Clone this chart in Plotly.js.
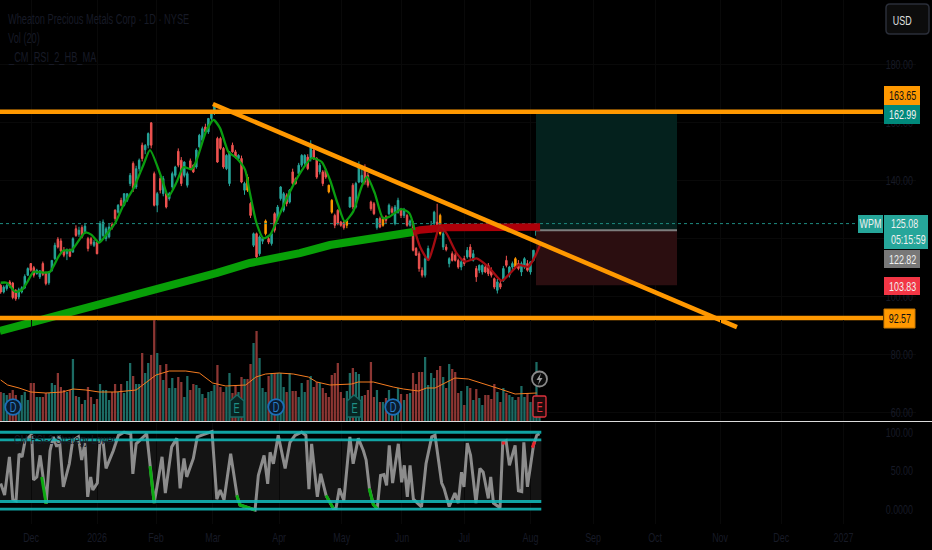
<!DOCTYPE html>
<html><head><meta charset="utf-8">
<script src="https://cdn.plot.ly/plotly-3.0.1.min.js"></script>
<style>html,body{margin:0;padding:0;background:#000}#c{width:932px;height:550px}</style>
</head><body><div id="c"></div>
<script>
// ---- data ----
const opens=[103.8,101.5,102.7,105,104.6,102.1,99.8,101.5,103,107.3,
111.3,109.9,107.8,106.7,111.3,108,104.7,109,113,119.7,
119.1,115.6,114.7,116.1,115.3,123.3,121.4,123.7,122.2,119.9,
119.9,117.6,118.7,119.3,121,119.9,120.5,124.7,129.7,129,
133.1,131.4,133.1,138.9,145.8,137.7,144,152.1,150.5,152.1,
159.8,142.3,131.4,140.6,135.4,135.4,133.7,137.7,141.7,150,
146.9,141.7,138.3,146.7,145.2,144.6,151.5,153.8,158.4,156.7,
161.3,163,154.4,154.4,151,144,138.9,152.1,149.8,147.5,
147.5,136.6,141.1,132,117.6,121.6,114.7,119,121.6,119.9,
118.2,128.5,126.8,133.7,129.7,134.8,132.5,142.9,140.6,142.3,
145.2,145.8,148,147.5,150.4,147.5,142.9,142.9,143.5,138.3,
133.1,127.9,129.7,125.6,125.6,124.5,130.8,138.3,130.8,139.4,
139.4,144,141.7,132.5,131.9,123.7,126.8,124.5,127.4,128.5,
130.2,125.1,129,129.7,127.9,127.9,124.5,125.1,116.5,114.7,
109,107.3,113,122.8,125.1,125.6,127.9,117,117,111.3,
114.7,114.2,112.4,110.1,113,113.6,117,112.4,109.6,109,
108.4,110.1,110.7,109,106.1,102.1,104.4,105.5,112.4,107.3,
110.1,110.1,111.3,108.4,110.1,111.3,108.4,112.4,121,121.6];
const highs=[104.4,103.8,104.4,105.6,105,102.5,103,103.5,107.6,110,
111.5,110.5,109.5,109,112,108.5,108.6,112.5,118.5,120.4,
120,117,116.5,116.5,120.4,124.5,124,124.5,125.2,120.5,
120.5,119.5,119.5,126,126.5,124,125,125.5,130,131.8,
134,135.5,135.5,142.5,146.5,145,147.5,153,152.5,156.5,
160,143,136,141.5,141.5,136,136,143,145,151,
148,146.5,143,147.5,145.5,151,156,158.5,159.5,161.5,
164,166,155,155,151.5,149,150,153,150.5,149,
148.5,139.5,142,132.5,122,122,121,120.5,126.5,120.5,
122,129,131.5,138,136,135.5,137,144,141,146,
149,149,149,153.8,152,148,146,143.5,144,138.5,
133.5,128.5,130,126,126,126.5,134,139,139.5,146.5,
144,145.5,142.5,133,132.5,127,127.5,127.5,128,132,
131,131.5,134,130.5,130.5,128.5,126.5,126,117,115.5,
110,113.5,117.5,126,129.5,131.9,128.5,123.5,118,113.5,
115.5,115,113,113,114,117,118,116,110.5,111,
111,111,111.5,110,106.5,106,105.5,110.5,114,110.5,
112,113.5,112.5,112,113.5,112.5,112,116,125.5,125.6];
const lows=[100.9,101,102,103,99,98.5,99,101,102.5,107,
108.5,106.5,107.5,106,107,103.8,104,108.5,112.5,116.5,
115,113.5,112.5,113.5,115,120.5,120.5,120,121.5,115.5,
117.5,117,114.5,118.5,120.5,119,120,123,126,128.5,
131,131,132.5,138,136,137,143,146.5,149,151,
151,131,129,135.5,134.5,130.3,133,137,141,144.5,
138,141,137.5,143.5,142.5,144,151,153,156,156,
160.5,162.5,146,150.5,144,143.5,138,149.5,147.5,147,
139,135,136,127,117,113,114,118,121,118,
117.5,122,126,133,129,131,132,138,138.5,141.5,
144.5,145,143.5,146.5,147,140.5,142,138,140.5,135.5,
128.5,123.5,124.5,124,123,123.5,130.5,130,130.3,139,
139,138.5,137.5,129.5,128,123,123.5,124,125,128,
128.5,124.5,128.5,127,127,124,124,115.5,114,108.5,
106.5,106.5,112.5,122,122.5,121.6,121,116,115.5,110,
112,112,109.5,109,110.5,113,113,112,105,108,
107.5,108,107,106.5,102.5,101,102.5,105,110,106.5,
109,109.5,109,107,109.5,108.5,107.5,112,120.5,121];
const closes=[101.5,103.2,103.8,103.8,99.6,99.2,102.3,103,106.9,109.6,
109,107.3,109,108.8,107.6,104.4,108.4,112.4,117.6,117,
115.6,114.2,116.1,113.8,119.9,121,122.8,120.5,124.2,116.5,
118.2,118.7,114.7,125.1,125.6,123.3,123.9,123.7,126.8,131.4,
131.4,135.4,135.4,141.7,137.1,144,146.9,147.5,152,156.1,
152.1,131.4,135.4,136.6,140.6,130.8,135.4,142.3,144.6,145.2,
138.9,146.3,142.3,144,142.9,150.4,155.5,157.8,156.7,161.3,
163.6,165.5,146.3,151,144.6,148.6,149.8,149.8,148,148.6,
139.4,138.9,136.6,127.9,121.6,113.6,120.5,120,126,118.7,
121.6,122.8,130.8,137.7,135.4,132,136.6,138.9,138.9,145.2,
148.6,148.6,144,151.5,147.5,141.1,145.2,138.9,141.1,136,
129,124.5,125.1,124.5,123.7,126.2,134.2,130.8,138.9,145.2,
141.7,139.4,138.3,130.2,128.5,126.8,123.9,126.8,126.2,131.4,
129,130.8,133.1,127.9,129.7,124.5,126,115.9,114.2,109.6,
107.3,113,116.5,124.5,129,124.5,121.6,121.6,116.1,113,
112.4,112.4,110.1,111.9,111.3,115.9,113.6,114.7,106.7,110.7,
110.7,108.4,107.8,107.3,103.2,105,103.2,109.6,110.7,110.1,
111.3,113,109.6,111.3,113,109,111.9,115.9,124.5,125.08];
const highlightBars=[82,88,109,110,115,127,146,171];
const volumes=[29,28,26,28,31,26,18,26,29,21,38,38,24,24,24,28,28,38,36,48,34,31,29,31,62,25,24,17,21,34,24,17,22,37,31,31,21,29,37,29,37,28,40,58,45,37,37,68,48,58,66,101,68,56,41,57,33,43,33,44,39,24,45,31,37,36,33,27,23,29,30,36,56,34,29,34,48,28,36,29,44,42,42,57,78,90,63,33,29,45,48,48,48,
48,34,29,48,30,30,24,38,29,41,45,34,39,38,33,28,24,46,48,58,29,23,30,48,53,49,47,25,26,31,59,24,31,19,19,23,31,18,21,33,27,21,27,28,48,37,49,49,64,36,48,43,51,55,44,33,57,52,49,28,30,16,35,33,21,32,23,16,26,26,22,37,29,19,33,28,26,24,21,24,35,24,28,19,24,59,24];
const volMaBars=[0,2.3,6.1,10,15,20.5,24,28.3,32.7,38.3,45,48.2,51.6,56,61.5,66,70.4,74.8,81.4,84.8,88,92.5,95.8,97.2,102.2,105,109.4,116.6,118.8,123.8,130.4,133.8,138.8,141.5,144.3,150.9,155.4,159.8,165.9,170.9,178.1];
const volMa=[41,36,33,29,28,29,32,31,29,29,31,38,46,50,50,48,38,35,36,44,47,48,47,47,44,39,36,37,39,39,34,32,30,33,33,43,42,38,32,27,28];
const maBars=[0,2,4.8,7,9.2,10.9,14.2,16.4,19.2,20.8,23.6,28,30.2,32.7,35.8,38,40.8,44.1,47.4,49.6,53.5,55.7,58.5,60.7,63.5,65.1,68.4,70.7,72.9,75.6,78.4,81.2,82.8,85,87.3,89.5,92.8,96.1,99.4,103.3,106.6,109.4,112.1,114.3,117.1,119.9,121.7,124.3,127,129.2,133.1,135.8,137.5];
const maUp=[104.7,104.7,101.6,102.2,105.6,108.5,108.2,108.5,113.7,115.8,116,122,121.2,118.5,122.3,125.2,131.5,137.2,145.3,150.4,140.7,134.4,139.5,144.5,143.8,147,157.3,160.8,157.9,149.9,147.6,143.6,135.5,125.2,120,121.2,128.6,136.1,142.4,147.6,146.4,140.1,131.5,125.8,129.2,137.8,141.3,135.5,126.9,127.5,130.1,128.6,122.9];
const maDownBars=[137.5,139.3,142.1,143.7,145.9,148.1,151.5,154.2,158.1,162,166.4,169.2,172,175.3,177.5,179.2];
const maDown=[122.9,117.1,112.5,117.1,124,121.7,114.8,112,113.1,110.2,105.4,107.9,110.8,110.2,113.7,117.7];
const longMaBars=[-0.3,19.7,26.3,49.6,71.9,82.8,92.8,99.4,109.4,120.4,137];
const longMaUp=[88.1,93.6,95.3,101.5,108.1,111.5,113.2,114.9,117.7,119.4,122.2];
const longMaDownBars=[137,139.3,148.3,159,179.2];
const longMaDown=[122.2,122.9,123.7,123.9,123.9];
const resistance=163.65, support=92.57, lastPrice=125.08;
const target=162.99, entry=122.82, stop=103.83;
const trendBars=[70.5,244.6], trendPrices=[166.3,89.4];
const rsiBars=[0,1.3,2.9,4,5.1,6.1,7.1,8.1,10.3,10.9,12,13.1,14.2,15.1,16.4,17.5,18.6,19.4,20.8,22.8,23.9,25.8,26.9,28,28.9,29.9,30.6,32.1,33,34.1,35,37.4,39.1,41,43.2,43.9,45,48.5,51,52.4,53.6,54.7,56.8,58.5,59.6,60.9,61.8,64,65.3,67.3,70.2,71.8,72.9,74.2,76.4,78.6,79.5,84.5,85.6,87.5,88.7,89.5,90.6,92.2,94.5,96.1,97.8,100,101.4,102.4,103.3,105.2,106.3,108.1,110.5,111.4,112.5,114,116,117.1,118.8,120.5,121.4,122.5,123.8,125.1,126.2,127.3,128.2,129.1,130.2,132.1,133.2,134.1,135.1,136,137.1,139.8,141.3,143.2,144.3,146.5,147.3,149,150.9,152,153.1,153.9,155,156.1,157.9,159.2,160.3,162,162.8,163.7,165.9,166.8,167.9,169,170.9,172,173.1,173.8,175,177,178.1,179];
const rsi=[33.5,18.5,68,12.9,11,72,68,89,97,38,42,70,38,7,76,94,81,96,29,59,89,94,64,86,16,42,25,34,89,85,53,76,96,100,98,46,85,98,8,38,68,21,81,92,27,66,42,66,94,97,101,13,25,12,72,16,5.5,-1,44,70,33,74,59,96,53,87,96,100,96,26,85,16,46,18,1,1,27,11,94,59,92,76,64,27,6,1,44,45,31,83,34,85,35,57,16,57,13,3,59,94,96,34,27,3.5,21,8,48,29,86,70,8,53,48,14,42,8,2,87,89,57,83,24,23,87,29,83,96,98];
const rsiLowBars=[13.6,15.1,null,49.6,51,null,78.4,79.5,84.5,null,108.1,110.5,null,122.4,123.8,125.1];
const rsiLow=[42,7,null,56,8,null,18,5.5,-1,null,18,1,null,27,6,1];
const rsiHighBars=[166.5,167.6,null,176.6,177.4];
const rsiHigh=[86,86,null,80,88];
const rsiBands=[100,90,10,0];
const priceTicks=[60,80,100,120,140,160,180];
const rsiTicks=[0,50,100], rsiTickText=['0.0000','50.00','100.00'];
const monthBars=[10.1,32,51.6,70.5,92.5,113.3,133.3,154,176,196.8,217.4,239,259.3,280];
const monthLabels=['Dec','2026','Feb','Mar','Apr','May','Jun','Jul','Aug','Sep','Oct','Nov','Dec','2027'];

// ---- helpers ----
const W=932,H=550,px=x=>x/W,py=y=>1-y/H;
const barOf=x=>(x-0.7)/3.01;
const bars=opens.map((_,i)=>i);
const FONT='"Liberation Sans",sans-serif';
const DIM='#171a26', TEAL='#26a69a', RED='#ef5350', ORANGE='#ff9800';
const plain=bars.filter(i=>!highlightBars.includes(i));
const pick=(a,idx)=>idx.map(i=>a[i]);
const candle=(idx,up,dn)=>({type:'candlestick',x:idx,open:pick(opens,idx),high:pick(highs,idx),low:pick(lows,idx),close:pick(closes,idx),
  increasing:{line:{color:up,width:1},fillcolor:up},decreasing:{line:{color:dn,width:1},fillcolor:dn},whiskerwidth:0,hoverinfo:'skip',xaxis:'x',yaxis:'y'});
const line=(x,y,color,width,extra={})=>Object.assign({type:'scatter',mode:'lines',x,y,line:Object.assign({color,width},extra.line||{}),hoverinfo:'skip',xaxis:'x',yaxis:extra.yaxis||'y',connectgaps:false});
const block=(x0,x1,y0,y1,color)=>({type:'scatter',mode:'none',x:[x0,x1,x1,x0,x0],y:[y0,y0,y1,y1,y0],fill:'toself',fillcolor:color,hoverinfo:'skip',xaxis:'x',yaxis:'y'});
const xMin=barOf(0), xMax=barOf(883), boxL=barOf(536), boxR=barOf(677);

const traces=[
 block(boxL,boxR,target,entry,'#04211d'),
 block(boxL,boxR,entry,stop,'#2b0e10'),
 line([boxL,boxR],[entry,entry],'#7d7d7d',2),
 line([xMin,barOf(858)],[lastPrice,lastPrice],'#1d8a80',1,{line:{dash:'dot'}}),
 line(longMaBars,longMaUp,'#08a008',8),
 line(longMaDownBars,longMaDown,'#ad0009',7.5),
 line(maBars,maUp,'#0a9c10',2.3,{line:{shape:'spline',smoothing:0.6}}),
 line(maDownBars,maDown,'#a30c12',2.3,{line:{shape:'spline',smoothing:0.6}}),
 candle(plain,TEAL,RED),
 candle(highlightBars,ORANGE,ORANGE),
 line([xMin,xMax],[resistance,resistance],ORANGE,4.5),
 line([xMin,xMax],[support,support],ORANGE,4.5),
 line(trendBars,trendPrices,ORANGE,4.5),
 {type:'bar',x:bars,y:volumes,width:0.75,marker:{color:bars.map(i=>closes[i]>=opens[i]?'#1c6b64':'#8c3633')},hoverinfo:'skip',xaxis:'x',yaxis:'y2'},
 line(volMaBars,volMa,'#f57c20',1,{yaxis:'y2'}),
 line(rsiBars,rsi,'#8c8c8c',3,{yaxis:'y3'}),
 line(rsiLowBars,rsiLow,'#0caa10',3,{yaxis:'y3'}),
 line(rsiHighBars,rsiHigh,'#e8242c',3,{yaxis:'y3'})
];
rsiBands.forEach(v=>traces.push(line([xMin,179.6],[v,v],'rgba(18,184,184,0.88)',2.8,{yaxis:'y3'})));

const axisFont={family:FONT,size:13.5,color:DIM};
const shapes=[
 {type:'rect',xref:'x',yref:'y3',x0:xMin,x1:179.6,y0:10,y1:90,fillcolor:'#141414',line:{width:0},layer:'below'},
 {type:'line',xref:'paper',yref:'paper',x0:0,x1:1,y0:py(421.5),y1:py(421.5),line:{color:'#dcdcdc',width:1}}
];
const rr=(x0,y0,x1,y1,r)=>`M${px(x0+r)},${py(y0)}L${px(x1-r)},${py(y0)}Q${px(x1)},${py(y0)} ${px(x1)},${py(y0+r)}L${px(x1)},${py(y1-r)}Q${px(x1)},${py(y1)} ${px(x1-r)},${py(y1)}L${px(x0+r)},${py(y1)}Q${px(x0)},${py(y1)} ${px(x0)},${py(y1-r)}L${px(x0)},${py(y0+r)}Q${px(x0)},${py(y0)} ${px(x0+r)},${py(y0)}Z`;
shapes.push({type:'path',xref:'paper',yref:'paper',path:rr(886,4,929,34,4),fillcolor:'#0c0c0c',line:{color:'#2a2e39',width:1.5}});
const ann=[], leftTexts=new Set();
const text=(t,x,y,size,color,anchor='left')=>{
  if(anchor==='left')leftTexts.add(t);
  ann.push({xref:'paper',yref:'paper',x:px(x),y:py(y),text:t,showarrow:false,xanchor:anchor,yanchor:'middle',font:{family:FONT,size,color}});
};
text('Wheaton Precious Metals Corp · 1D · NYSE',6,19,14,DIM);
text('Vol (20)',6,38,14,DIM);
text('_CM_RSI_2_HB_MA',6,57,14,DIM);
text('CM RSI-2 Strategy Lower',12,439,13.5,DIM);
text('USD',902,20,13.5,'#e0e0e0','center');
const tag=(t,x0,x1,y0,y1,bg,color,border)=>{
  shapes.push({type:'rect',xref:'paper',yref:'paper',x0:px(x0),x1:px(x1),y0:py(y1),y1:py(y0),fillcolor:bg,line:{width:border?1:0,color:border||bg}});
  if(t)ann.push({xref:'paper',yref:'paper',x:px((x0+x1)/2),y:py((y0+y1)/2),text:t,showarrow:false,xanchor:'center',yanchor:'middle',font:{family:FONT,size:13.5,color},align:'center'});
};
tag(resistance.toFixed(2),884,920,86,105,ORANGE,'#101010');
tag(target.toFixed(2),884,920,105,124,'#00897b','#f0f0f0');
tag('WPM',858,883,215,233,TEAL,'#f0f0f0');
tag('',884,928,215,249,TEAL,'#f0f0f0');
text(lastPrice.toFixed(2),889,224,13.5,'#f0f0f0');
text('05:15:59',889,240,13.5,'#f0f0f0');
tag(entry.toFixed(2),884,920,250,268,'#787878','#f0f0f0');
tag(stop.toFixed(2),884,920,277,295,'#f23645','#f0f0f0');
tag(support.toFixed(2),884,915,309,328,ORANGE,'#101010','#c97800');
// event markers
const circle=(cx,cy,r,fill,stroke)=>shapes.push({type:'circle',xref:'paper',yref:'paper',x0:px(cx-r),x1:px(cx+r),y0:py(cy+r),y1:py(cy-r),fillcolor:fill,line:{color:stroke,width:1.8}});
[13,276,393].forEach(x=>{circle(x,407,7.8,'#0b1b2e','#1c6fb8');text('D',x,407,14,'#2a7fc8','center');});
[237,354].forEach(x=>{
  shapes.push({type:'path',xref:'paper',yref:'paper',path:`M${px(x)},${py(395)}L${px(x+7)},${py(401)}L${px(x+7)},${py(417)}L${px(x-7)},${py(417)}L${px(x-7)},${py(401)}Z`,fillcolor:'#082422',line:{color:'#176a64',width:1.5}});
  text('E',x,407.5,14,'#1f8f86','center');
});
shapes.push({type:'path',xref:'paper',yref:'paper',path:rr(533,396,546,417,1.5),fillcolor:'#1d0a0c',line:{color:'#e0323c',width:1.3}});
text('E',539.5,407,14,'#e0323c','center');
circle(539.5,379,7.5,'#0a0a0a','#8a8a8a');
shapes.push({type:'path',xref:'paper',yref:'paper',path:`M${px(541)},${py(373)}L${px(536.5)},${py(380)}L${px(539.3)},${py(380)}L${px(538)},${py(385)}L${px(542.5)},${py(378)}L${px(539.7)},${py(378)}Z`,fillcolor:'#9a9a9a',line:{width:0}});

const layout={
 width:W,height:H,margin:{l:0,r:0,t:0,b:0,pad:0},paper_bgcolor:'#000',plot_bgcolor:'rgba(0,0,0,0)',showlegend:false,hovermode:false,bargap:0.28,
 xaxis:{domain:[0,916/W],range:[barOf(0),barOf(916)],anchor:'y3',tickmode:'array',tickvals:monthBars,ticktext:monthLabels,tickfont:axisFont,showgrid:true,gridcolor:'#090909',zeroline:false,showline:false,ticks:'',rangeslider:{visible:false},ticklabelstandoff:3,tickangle:0},
 yaxis:{domain:[py(421),1],range:[57.06,202.13],side:'right',anchor:'x',ticklabelposition:'inside',tickmode:'array',tickvals:priceTicks,ticktext:priceTicks.map(v=>v.toFixed(2)),tickfont:axisFont,showgrid:true,gridcolor:'#090909',zeroline:false,showline:false,ticks:''},
 yaxis2:{domain:[py(421),py(320)],range:[0,101],anchor:'x',showticklabels:false,showgrid:false,zeroline:false,showline:false,ticks:''},
 yaxis3:{domain:[py(524),py(423)],range:[-19.2,112],side:'right',anchor:'x',ticklabelposition:'inside',tickmode:'array',tickvals:rsiTicks,ticktext:rsiTickText,tickfont:axisFont,showgrid:false,zeroline:false,showline:false,ticks:''},
 shapes,annotations:ann
};
const TEXT_SQUEEZE=0.66; // the reference's lettering is much narrower than any installed face
Plotly.newPlot('c',traces,layout,{displayModeBar:false,staticPlot:true}).then(()=>{
  document.querySelectorAll('#c svg text').forEach(t=>{
    const w=t.getComputedTextLength();
    if(!(w>0))return;
    t.setAttribute('textLength',(w*TEXT_SQUEEZE).toFixed(1));
    t.setAttribute('lengthAdjust','spacingAndGlyphs');
    // annotation text is anchored on its middle: keep left-anchored labels at their left edge
    if(leftTexts.has(t.textContent)){
      t.setAttribute('x',(parseFloat(t.getAttribute('x'))-w*(1-TEXT_SQUEEZE)/2).toFixed(1));
    }
  });
});
</script></body></html>
